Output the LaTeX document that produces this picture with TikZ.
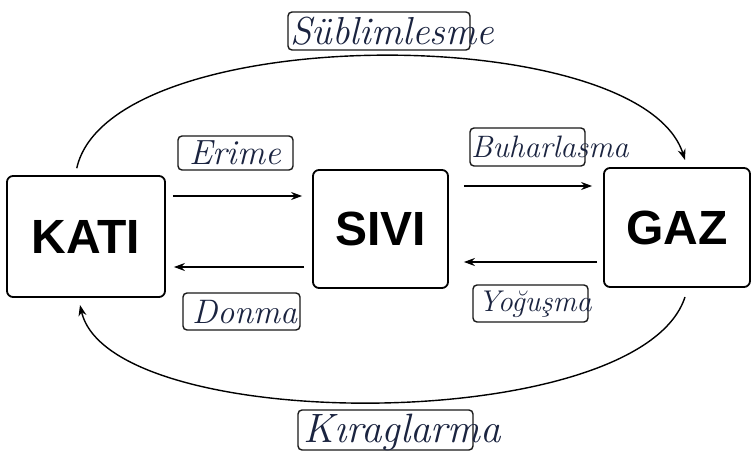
\documentclass[tikz,border=0pt]{standalone}
\usepackage{fontspec}
\setmainfont{Latin Modern Roman}
\newfontfamily\statefont{Liberation Sans}
\usetikzlibrary{arrows.meta}
\definecolor{ink}{HTML}{1B2440}
\tikzset{
  statebox/.style={draw=black, line width=1.8pt, rounded corners=6pt, inner sep=0pt,
    font=\statefont\bfseries\fontsize{48}{50}\selectfont},
  tagbox/.style={draw=black!90, line width=1.4pt, rounded corners=4pt, inner sep=0pt},
  tagtext/.style={anchor=west, inner sep=0pt, text=ink,
    font=\itshape\fontsize{#1}{#1}\selectfont},
  tagtext/.default=30,
  flow/.style={line width=1.4pt, -{Stealth[length=11pt,width=8pt]}},
}
\begin{document}
\begin{tikzpicture}[x=1pt,y=-1pt]
\useasboundingbox[fill=white] (0,0) rectangle (753,462);

% the three states
\node[statebox, minimum width=158pt, minimum height=121pt] (kati) at (86,236.5) {KATI};
\node[statebox, minimum width=135pt, minimum height=118pt] (sivi) at (380.5,229) {SIVI};
\node[statebox, minimum width=146pt, minimum height=119pt] (gaz)  at (677,227.5) {GAZ};

% label frames
\node[tagbox, minimum width=182pt, minimum height=38pt] (fsub) at (379,31) {};
\node[tagbox, minimum width=115pt, minimum height=34pt] (feri) at (235.5,153) {};
\node[tagbox, minimum width=115pt, minimum height=38pt] (fbuh) at (527.5,147) {};
\node[tagbox, minimum width=117pt, minimum height=37pt] (fdon) at (241.5,311.5) {};
\node[tagbox, minimum width=115pt, minimum height=37pt] (fyog) at (530.5,303.5) {};
\node[tagbox, minimum width=175pt, minimum height=40pt] (fkir) at (385.5,430) {};

% label texts, written past the frames
\node[tagtext=39] (tsub) at (290,31) {Süblimlesme};
\node[tagtext=35] (teri) at (189,153) {Erime};
\node[tagtext=31] (tbuh) at (471,147) {Buharlasma};
\node[tagtext=34] (tdon) at (192,312) {Donma};
\node[tagtext=30] (tyog) at (478,304) {Yoğuşma};
\node[tagtext=41] (tkir) at (303,432) {Kıraglarma};

% heights of the straight arrows
\coordinate (yer) at (0,196);
\coordinate (ydo) at (0,267);
\coordinate (ybu) at (0,186);
\coordinate (yyo) at (0,262);

\draw[flow, shorten <=7pt, shorten >=10pt] (kati.east |- yer) -- (sivi.west |- yer);
\draw[flow, shorten <=8pt, shorten >=8pt] (sivi.west |- ydo) -- (kati.east |- ydo);
\draw[flow, shorten <=15pt, shorten >=11pt] (sivi.east |- ybu) -- (gaz.west |- ybu);
\draw[flow, shorten <=6pt, shorten >=15pt] (gaz.west |- yyo) -- (sivi.east |- yyo);

% sublimation over the top, deposition under the bottom
\coordinate (subs) at (75,176);
\coordinate (sube) at (685,160);
\coordinate (kirs) at (685,297);
\coordinate (kire) at (80,305);
\draw[flow, shorten <=8pt] (subs) .. controls (110,20) and (640,20) .. (sube);
\draw[flow] (kirs) .. controls (640,436) and (110,436) .. (kire);
\end{tikzpicture}
\end{document}
